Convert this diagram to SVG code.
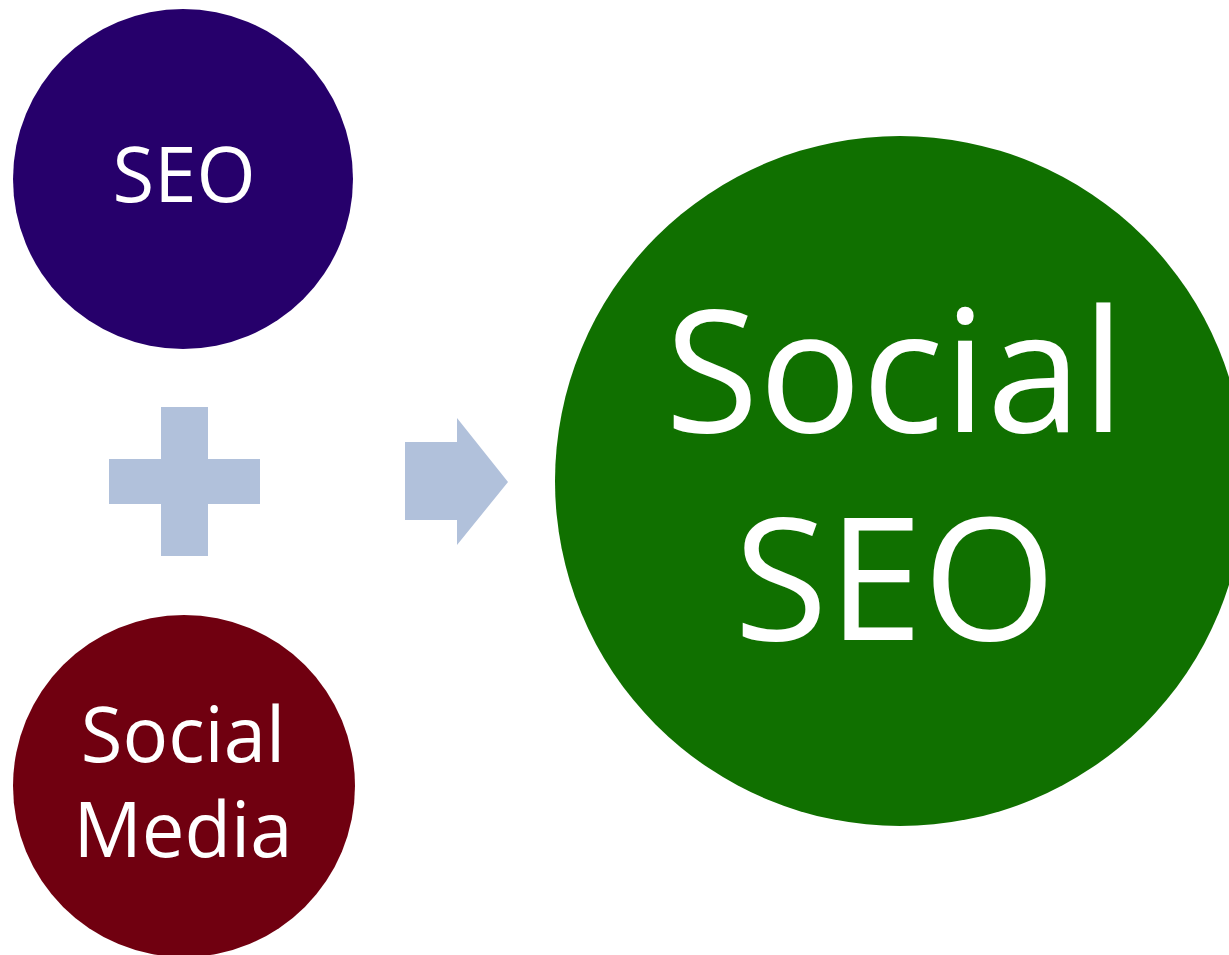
<svg xmlns="http://www.w3.org/2000/svg" width="1229" height="955" viewBox="0 0 1229 955">
  <style>
    .lbl { font-family: "Open Sans", "Noto Sans", "Liberation Sans", sans-serif; fill: #ffffff; text-anchor: middle; }
    .sm { font-size: 76px; }
    .big { font-size: 171px; }
    .sym { fill: #b1c1db; }
  </style>
  <rect width="1229" height="955" fill="#ffffff"/>
  <g id="connectors">
    <path class="sym" d="M161 407 H208 V459 H260 V504 H208 V556 H161 V504 H109 V459 H161 Z"/>
    <path class="sym" d="M405 442 H457 V418 L508 482 L457 545 V520 H405 Z"/>
  </g>
  <g id="seo">
    <circle cx="183" cy="179" r="170" fill="#26006b"/>
    <text class="lbl sm" x="184" y="202">SEO</text>
  </g>
  <g id="social-media">
    <circle cx="184" cy="786" r="171" fill="#700010"/>
    <text class="lbl sm" x="183" y="762">Social</text>
    <text class="lbl sm" x="183" y="857">Media</text>
  </g>
  <g id="social-seo">
    <circle cx="900" cy="481" r="345" fill="#107000"/>
    <text class="lbl big" x="895" y="432">Social</text>
    <text class="lbl big" x="895" y="640">SEO</text>
  </g>
</svg>
